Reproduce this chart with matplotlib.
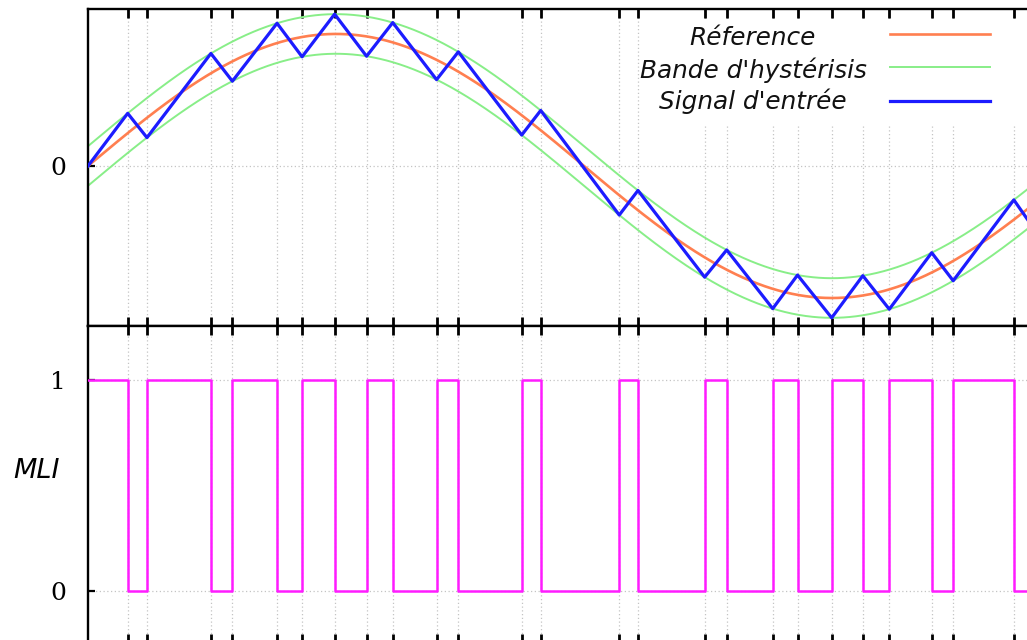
import numpy as np
import matplotlib
matplotlib.use("Agg")
import matplotlib.pyplot as plt
from matplotlib.patches import Rectangle
from matplotlib.lines import Line2D

# ---- data -------------------------------------------------------------
# phase axis in degrees; reference is a unit sinusoid
ref_amplitude = 1.0
band_half_width = 0.15          # hysteresis band: reference +/- this
x_max = 345.5

# instants (deg) where the input signal hits a band edge and the switch toggles
switch_times = [14.4, 21.4, 44.6, 52.4, 68.6, 77.7, 89.5, 101.1, 110.6,
                126.5, 134.4, 157.4, 164.3, 192.8, 199.6, 223.8, 231.8,
                248.5, 257.5, 269.9, 281.2, 290.8, 306.2, 314.0, 336.0, 342.5]

# PWM (MLI) state on each interval: before first switch, then after each one
mli_levels = [1, 0, 1, 0, 1, 0, 1, 0, 1, 0, 1, 0, 1, 0,
              1, 0, 1, 0, 1, 0, 1, 0, 1, 0, 1, 0, 1]

legend_labels = ["Réference", "Bande d'hystérisis", "Signal d'entrée"]

# ---- derived curves ---------------------------------------------------
c_ref = "#ff7f50"
c_band = "#88ee88"
c_sig = "#1c1cff"
c_mli = "#ff1cff"

t = np.linspace(0, 360, 1441)
ref = ref_amplitude * np.sin(np.radians(t))

sw = np.array(switch_times)
# rising while the switch is on -> vertex on upper edge, otherwise lower edge
edge_sign = np.where(np.array(mli_levels[:-1]) == 1, 1.0, -1.0)
vert_y = ref_amplitude * np.sin(np.radians(sw)) + edge_sign * band_half_width
sig_x = np.concatenate([[0.0], sw])
sig_y = np.concatenate([[0.0], vert_y])

mli_x = np.concatenate([[0.0], sw, [x_max + 10]])
mli_y = np.concatenate([mli_levels, [mli_levels[-1]]])

# ---- figure -----------------------------------------------------------
W, H = 1027, 640
fig = plt.figure(figsize=(W / 100, H / 100), dpi=100)
fig.patch.set_facecolor("white")

ax_left = 88 / W
ax_w = 952 / W
ax_h = 317 / H
ax_top = fig.add_axes([ax_left, (H - 326) / H, ax_w, ax_h])
ax_bot = fig.add_axes([ax_left, (H - 643) / H, ax_w, ax_h])

grid_kw = dict(color="#c4c4c4", lw=0.9, ls=(0, (1, 2)), zorder=0.5)
tick_font = dict(family="DejaVu Serif", size=18)

for ax in (ax_top, ax_bot):
    ax.set_xlim(0, x_max)
    ax.set_xticks(switch_times)
    ax.set_xticklabels([])
    for s in switch_times:
        ax.axvline(s, **grid_kw)
    ax.tick_params(axis="x", direction="in", top=True, bottom=True,
                   length=6.5, width=2.0, color="black",
                   labelbottom=False)
    ax.tick_params(axis="y", direction="in", left=True, right=True,
                   length=5, width=1.6, pad=16)
    for sp in ax.spines.values():
        sp.set_linewidth(1.7)
        sp.set_color("black")

# top panel: reference, hysteresis band, input signal
ax_top.set_ylim(-1.212, 1.189)
ax_top.set_yticks([0])
ax_top.set_yticklabels(["0"], fontdict=tick_font)
ax_top.axhline(0, **grid_kw)

ax_top.plot(t, ref + band_half_width, color=c_band, lw=1.4, zorder=2)
ax_top.plot(t, ref - band_half_width, color=c_band, lw=1.4, zorder=2)
ax_top.plot(t, ref, color=c_ref, lw=1.9, zorder=3)
ax_top.plot(sig_x, sig_y, color=c_sig, lw=2.3, zorder=4)

# key block in the upper right, on a white background
ax_top.add_patch(Rectangle(((642 - 88) / 952, (326 - 124) / 317),
                           0.5, (124 - 19) / 317,
                           transform=ax_top.transAxes, facecolor="white",
                           edgecolor="none", zorder=1, clip_on=False))
key_colors = [c_ref, c_band, c_sig]
key_lw = [1.9, 1.4, 2.3]
key_line_y = [34, 67, 101]
key_base_y = [45, 78, 109]
for lab, col, lw, ly, by in zip(legend_labels, key_colors, key_lw,
                                key_line_y, key_base_y):
    ax_top.add_line(Line2D([(890 - 88) / 952, (990 - 88) / 952],
                           [(326 - ly) / 317] * 2, color=col, lw=lw,
                           transform=ax_top.transAxes, zorder=5))
    ax_top.text((753 - 88) / 952, (326 - by) / 317, lab,
                transform=ax_top.transAxes, ha="center", va="baseline",
                fontsize=17.8, style="italic", family="DejaVu Sans",
                color="#111111", zorder=5)

# bottom panel: switch command
ax_bot.set_ylim(-0.246, 1.256)
ax_bot.set_yticks([0, 1])
ax_bot.set_yticklabels(["0", "1"], fontdict=tick_font)
ax_bot.axhline(0, **grid_kw)
ax_bot.axhline(1, **grid_kw)
ax_bot.plot(mli_x, mli_y, drawstyle="steps-post", color=c_mli, lw=1.8,
            zorder=3)
ax_bot.set_ylabel("MLI", rotation=0, fontsize=19.5, style="italic",
                  family="DejaVu Sans", ha="center", va="center")
ax_bot.yaxis.set_label_coords((37 - 88) / 952, (643 - 471) / 317)

fig.savefig("out.png", dpi=100, facecolor="white")
